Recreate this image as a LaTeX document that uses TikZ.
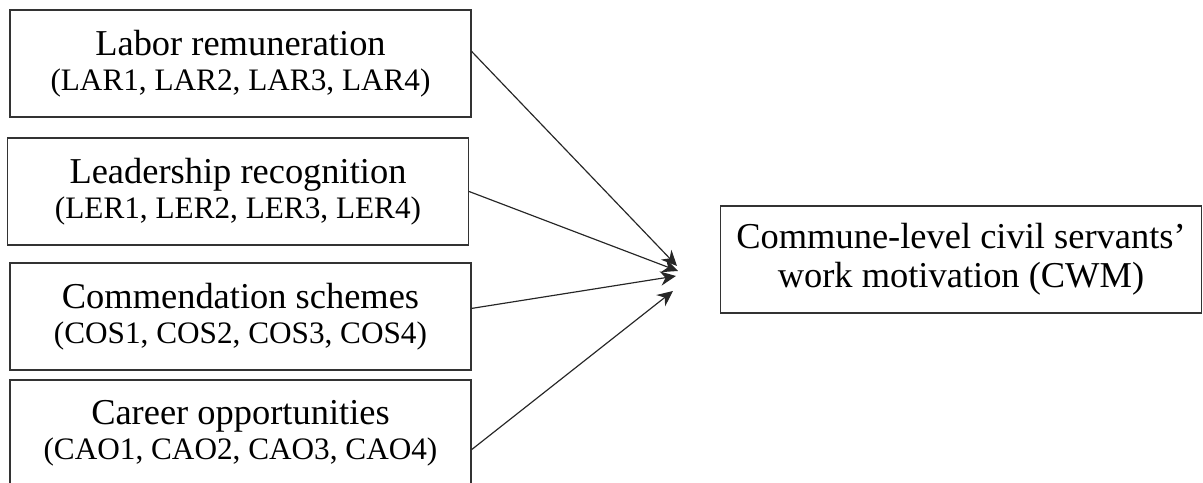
\documentclass[tikz,border=0pt]{standalone}
\usepackage{fontspec}
\setmainfont{Liberation Serif}
\usetikzlibrary{arrows.meta,calc}

\tikzset{
  factor/.style={draw=black!80,line width=0.6pt,minimum width=6.22cm,minimum height=1.445cm,
    align=center,inner sep=0pt,font=\fontsize{14}{13.4}\selectfont},
  result/.style={draw=black!80,line width=0.6pt,minimum width=6.5cm,minimum height=1.445cm,
    align=center,inner sep=0pt,font=\fontsize{14}{15}\selectfont},
  link/.style={-{Stealth[length=6pt,width=5.5pt]},draw=black!85,line width=0.45pt}
}
\newcommand{\items}[1]{{\fontsize{12}{13.4}\selectfont #1}}

\begin{document}
\begin{tikzpicture}[x=0.0135cm,y=-0.0135cm]
      \useasboundingbox (0,0) rectangle (1203,483);
      % left column of factors
      \node[factor] (lar) at (240.5,63.5) {Labor remuneration\\\items{(LAR1, LAR2, LAR3, LAR4)}};
      \node[factor] (ler) at (238,191.5) {Leadership recognition\\\items{(LER1, LER2, LER3, LER4)}};
      \node[factor] (cos) at (240.5,316.5) {Commendation schemes\\\items{(COS1, COS2, COS3, COS4)}};
      \node[factor] (cao) at (240.5,433.5) {Career opportunities\\\items{(CAO1, CAO2, CAO3, CAO4)}};
      % outcome
      \node[result] (cwm) at (961,259.5) {Commune-level civil servants'\\work motivation (CWM)};
      % arrow ends
      \coordinate (t1) at (677,266);
      \coordinate (t2) at (678,271);
      \coordinate (t3) at (676,276);
      \coordinate (t4) at (673,291);
      \draw[link] (lar.3) -- (t1);
      \draw[link] (ler.0) -- (t2);
      \draw[link] (cos.2) -- (t3);
      \draw[link] (cao.-4) -- (t4);
    \end{tikzpicture}
\end{document}
